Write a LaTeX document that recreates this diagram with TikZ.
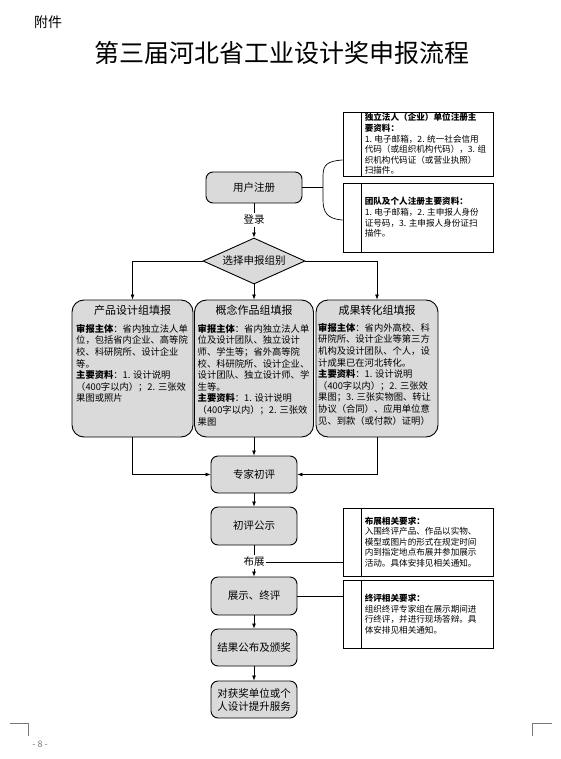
\documentclass[tikz,border=0pt]{standalone}
\usepackage{fontspec}
\setmainfont{Noto Sans CJK SC}
\usetikzlibrary{shapes.geometric,arrows.meta,calc}
\definecolor{boxgray}{RGB}{218,218,218}
\definecolor{pagegray}{RGB}{120,120,120}
\begin{document}
\begin{tikzpicture}[x=1pt,y=-1pt,
  proc/.style={draw, line width=0.9pt, rounded corners=7pt, fill=boxgray, minimum width=86pt, minimum height=37pt, inner sep=0pt, font=\fontsize{10.5}{13}\selectfont, align=center},
  bigbox/.style={draw, line width=0.9pt, rounded corners=12pt, fill=boxgray, minimum height=137pt, inner sep=0pt},
  bigtitle/.style={inner sep=0pt, font=\fontsize{11}{13}\selectfont},
  bodytext/.style={inner sep=0pt, anchor=north west, align=left, font=\fontsize{9.3}{11.6}\selectfont},
  notebox/.style={draw, line width=0.9pt, minimum width=150pt, inner sep=0pt},
  notetext/.style={inner sep=0pt, anchor=west, align=left, font=\fontsize{8.6}{10.6}\selectfont},
  flow/.style={line width=0.7pt},
  arr/.style={flow, -{Latex[length=5pt,width=4pt]}},
  lbl/.style={inner sep=1.5pt, font=\fontsize{10.5}{13}\selectfont}
]
\fill[white] (0,0) rectangle (560,759);
\useasboundingbox (0,0) rectangle (560,759);

% header
\node[inner sep=0pt, font=\fontsize{14}{16}\selectfont] (fujian) at (48,22) {附件};
\node[inner sep=0pt, font=\fontsize{25}{30}\selectfont] (title) at (282,53) {第三届河北省工业设计奖申报流程};

% registration
\node[proc, minimum width=96pt, minimum height=31pt] (reg) at (254,187.5) {用户注册};
\node[lbl] (login) at (254,220) {登录};
\node[draw, line width=0.9pt, fill=boxgray, shape=diamond, aspect=2.2, inner sep=0pt,
      minimum width=102pt, minimum height=46pt, font=\fontsize{10.5}{13}\selectfont] (dia) at (254,261) {选择申报组别};

% notes for registration
\node[notebox, minimum height=64pt] (n1) at (418,144) {};
\draw[line width=0.9pt] ($(n1.north west)+(19,0)$) -- ($(n1.south west)+(19,0)$);
\node[notetext] (n1t) at ($(n1.west)+(22,0)$) {\textbf{独立法人（企业）单位注册主}\\\textbf{要资料：}\\1. 电子邮箱，2. 统一社会信用\\代码（或组织机构代码），3. 组\\织机构代码证（或营业执照）\\扫描件。};
\node[notebox, minimum height=69pt] (n2) at (418,217.5) {};
\draw[line width=0.9pt] ($(n2.north west)+(19,0)$) -- ($(n2.south west)+(19,0)$);
\node[notetext] (n2t) at ($(n2.west)+(22,0)$) {\textbf{团队及个人注册主要资料：}\\1. 电子邮箱，2. 主申报人身份\\证号码，3. 主申报人身份证扫\\描件。};

% three application boxes
\node[bigbox, minimum width=121pt] (b1) at (132.5,368.5) {};
\node[bigbox, minimum width=119pt] (b2) at (254,368.5) {};
\node[bigbox, minimum width=122pt] (b3) at (377,368.5) {};
\node[bigtitle] (b1h) at (132.5,310) {产品设计组填报};
\node[bigtitle] (b2h) at (254,310) {概念作品组填报};
\node[bigtitle] (b3h) at (377,310) {成果转化组填报};
\node[bodytext] (b1t) at (76,324) {\textbf{审报主体}：省内独立法人单\\位，包括省内企业、高等院\\校、科研院所、设计企业\\等。\\\textbf{主要资料}：1. 设计说明\\（400字以内）；2. 三张效\\果图或照片};
\node[bodytext] (b2t) at (197.5,324) {\textbf{审报主体}：省内独立法人单\\位及设计团队、独立设计\\师、学生等；省外高等院\\校、科研院所、设计企业、\\设计团队、独立设计师、学\\生等。\\\textbf{主要资料}：1. 设计说明\\（400字以内）；2. 三张效\\果图};
\node[bodytext] (b3t) at (318,323) {\textbf{审报主体}：省内外高校、科\\研院所、设计企业等第三方\\机构及设计团队、个人，设\\计成果已在河北转化。\\\textbf{主要资料}：1. 设计说明\\（400字以内）；2. 三张效\\果图；3. 三张实物图、转让\\协议（合同）、应用单位意\\见、到款（或付款）证明）};

% lower flow
\node[proc] (exp) at (254,474.5) {专家初评};
\node[proc, minimum height=38pt] (pub) at (254,526) {初评公示};
\node[lbl] (buzhan) at (254,562) {布展};
\node[proc, minimum height=38pt] (final) at (254,596) {展示、终评};
\node[proc] (result) at (254,647.5) {结果公布及颁奖};
\node[proc] (serve) at (254,699.5) {对获奖单位或个\\人设计提升服务};

% notes for exhibition and final
\node[notebox, minimum height=68pt] (n3) at (418,542) {};
\draw[line width=0.9pt] ($(n3.north west)+(19,0)$) -- ($(n3.south west)+(19,0)$);
\node[notetext] (n3t) at ($(n3.west)+(22,0)$) {\textbf{布展相关要求：}\\入围终评产品、作品以实物、\\模型或图片的形式在规定时间\\内到指定地点布展并参加展示\\活动。具体安排见相关通知。};
\node[notebox, minimum height=68pt] (n4) at (418,614) {};
\draw[line width=0.9pt] ($(n4.north west)+(19,0)$) -- ($(n4.south west)+(19,0)$);
\node[notetext] (n4t) at ($(n4.west)+(22,0)$) {\textbf{终评相关要求：}\\组织终评专家组在展示期间进\\行终评，并进行现场答辩。具\\体安排见相关通知。};

% connectors
\draw[flow] (reg.east) -- (323,187.5);
\draw[flow] ($(n1.west)+(0,16)$) .. controls (327,161) and (323,165) .. (323,176) -- (323,200) .. controls (323,212) and (327,219) .. ($(n2.west)+(0,2.5)$);
\draw[flow] (reg) -- (login);
\draw[arr] (login) -- (dia);
\draw[arr] (dia.west) -| (b1.north);
\draw[arr] (dia.east) -| (b3.north);
\draw[arr] (dia.south) -- (b2.north);
\draw[arr] (b1.south) |- (exp.west);
\draw[arr] (b3.south) |- (exp.east);
\draw[arr] (b2.south) -- (exp.north);
\draw[arr] (exp) -- (pub);
\draw[flow] (pub) -- (buzhan);
\draw[arr] (buzhan) -- (final);
\draw[flow] (buzhan.east) -- (buzhan.east -| n3.west);
\draw[flow] (final.east) -- (final.east -| n4.west);
\draw[arr] (final) -- (result);
\draw[arr] (result) -- (serve);

% page corner marks and number
\draw[line width=0.5pt, pagegray] (10,723) -- (28,723) -- (28,736);
\draw[line width=0.5pt, pagegray] (532,736) -- (532,723) -- (552,723);
\node[inner sep=0pt, text=pagegray, font=\fontsize{9}{11}\selectfont] (pg) at (40,744) {- 8 -};
\end{tikzpicture}
\end{document}
